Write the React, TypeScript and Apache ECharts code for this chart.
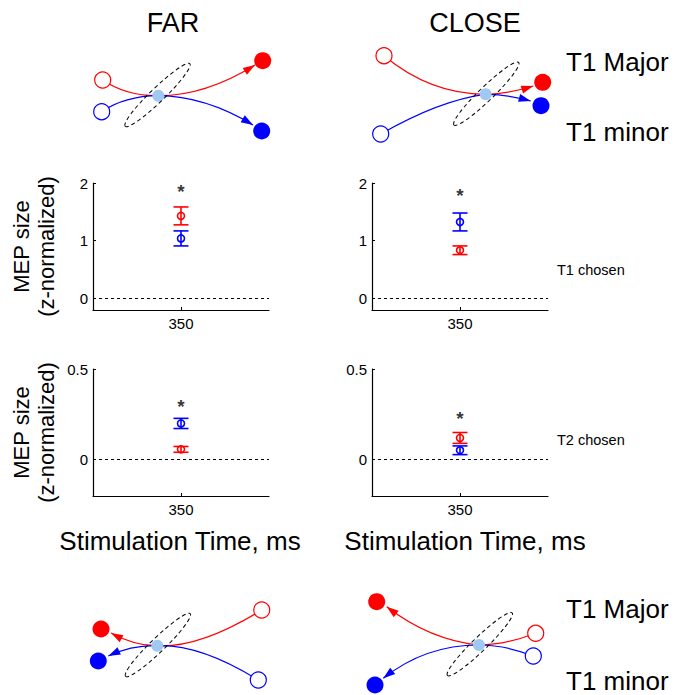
import React, { useEffect, useRef } from "react";
import * as echarts from "echarts";

// ---------- data ----------
const conditions = ["FAR", "CLOSE"];
const stimTimes = [350];
const xTickLabels = ["350"];
const t1YTicks = [0, 1, 2];
const t2YTicks = [0, 0.5];
// T1 chosen (row 1): [FAR, CLOSE]
const t1MajorMean = [1.43, 0.835];
const t1MajorSem = [0.155, 0.075];
const t1MinorMean = [1.04, 1.325];
const t1MinorSem = [0.13, 0.155];
const t1StarY = [1.94, 1.87];
// T2 chosen (row 2): [FAR, CLOSE]
const t2MajorMean = [0.057, 0.12];
const t2MajorSem = [0.016, 0.03];
const t2MinorMean = [0.2, 0.052];
const t2MinorSem = [0.028, 0.024];
const t2StarY = [0.32, 0.255];

const RED = "#ff0000";
const BLUE = "#0000ff";
const LIGHT = "#9fc8f2";
const FONT = "Liberation Sans, Arial, sans-serif";

// ---------- layout ----------
const gridRects = [
  { left: 93, top: 183, width: 176, height: 127 },
  { left: 372, top: 183, width: 176, height: 127 },
  { left: 93, top: 369, width: 176, height: 127 },
  { left: 372, top: 369, width: 176, height: 127 },
];

type P = [number, number];
interface Diagram {
  redOpen: P; blueOpen: P; center: P;
  redFilled: P; redTip: P; blueFilled: P; blueTip: P;
  redCp1: P; redCp2: P; blueCp1: P; blueCp2: P;
  ell: P;
}
const diagrams: Diagram[] = [
  { redOpen: [102.7, 80], blueOpen: [101.7, 111.7], center: [158.3, 95.7],
    redFilled: [262.7, 60.7], redTip: [255, 65], blueFilled: [261.7, 131], blueTip: [253, 125],
    redCp1: [126, 96], redCp2: [205, 96], blueCp1: [125, 96], blueCp2: [205, 96], ell: [157.5, 95] },
  { redOpen: [384, 55.7], blueOpen: [380.7, 134], center: [485.7, 94.3],
    redFilled: [542.7, 82.3], redTip: [533.3, 86], blueFilled: [541, 105.7], blueTip: [530.7, 101],
    redCp1: [430, 94], redCp2: [508, 94], blueCp1: [440, 100], blueCp2: [505, 94], ell: [486.3, 93.7] },
  { redOpen: [261.7, 610], blueOpen: [258.3, 680], center: [157.3, 645.7],
    redFilled: [101, 629], redTip: [111, 633], blueFilled: [98.3, 661], blueTip: [108.3, 656],
    redCp1: [200, 648], redCp2: [135, 646], blueCp1: [200, 644], blueCp2: [132, 645], ell: [157.9, 645] },
  { redOpen: [535.7, 633.3], blueOpen: [533.3, 656], center: [479, 645],
    redFilled: [376.7, 601.7], redTip: [386.7, 606.7], blueFilled: [375, 685], blueTip: [383.3, 678.3],
    redCp1: [505, 645], redCp2: [430, 640], blueCp1: [505, 645], blueCp2: [425, 645], ell: [479.8, 644.2] },
];

function curve(a: P, cp: P, b: P, color: string) {
  return {
    type: "bezierCurve",
    shape: { x1: a[0], y1: a[1], x2: b[0], y2: b[1], cpx1: cp[0], cpy1: cp[1] },
    style: { stroke: color, lineWidth: 1.2, fill: "none" },
    z: 1,
  };
}
function arrow(cp: P, tip: P, color: string) {
  const dx = tip[0] - cp[0], dy = tip[1] - cp[1];
  const len = Math.hypot(dx, dy);
  const ux = dx / len, uy = dy / len;
  const L = 12, W = 4;
  const bx = tip[0] - ux * L, by = tip[1] - uy * L;
  return {
    type: "polygon",
    shape: { points: [tip, [bx - uy * W, by + ux * W], [bx + uy * W, by - ux * W]] },
    style: { fill: color },
    z: 2,
  };
}
function diagramElements(d: Diagram) {
  const els: any[] = [];
  els.push(curve(d.redOpen, d.redCp1, d.center, RED));
  els.push(curve(d.center, d.redCp2, d.redTip, RED));
  els.push(curve(d.blueOpen, d.blueCp1, d.center, BLUE));
  els.push(curve(d.center, d.blueCp2, d.blueTip, BLUE));
  els.push(arrow(d.redCp2, d.redTip, RED));
  els.push(arrow(d.blueCp2, d.blueTip, BLUE));
  els.push({ type: "circle", shape: { cx: d.redOpen[0], cy: d.redOpen[1], r: 8 }, style: { fill: "#fff", stroke: RED, lineWidth: 1.2 }, z: 3 });
  els.push({ type: "circle", shape: { cx: d.blueOpen[0], cy: d.blueOpen[1], r: 8 }, style: { fill: "#fff", stroke: BLUE, lineWidth: 1.2 }, z: 3 });
  els.push({ type: "circle", shape: { cx: d.redFilled[0], cy: d.redFilled[1], r: 8.5 }, style: { fill: RED }, z: 3 });
  els.push({ type: "circle", shape: { cx: d.blueFilled[0], cy: d.blueFilled[1], r: 8.5 }, style: { fill: BLUE }, z: 3 });
  els.push({ type: "circle", shape: { cx: d.center[0], cy: d.center[1], r: 6 }, style: { fill: LIGHT }, z: 3 });
  els.push({
    type: "ellipse", x: d.ell[0], y: d.ell[1], rotation: (44 * Math.PI) / 180,
    shape: { cx: 0, cy: 0, rx: 45, ry: 7 },
    style: { fill: "none", stroke: "#000", lineWidth: 1, lineDash: [4, 3] }, z: 4,
  });
  return els;
}

function text(t: string, x: number, y: number, size: number, extra: any = {}) {
  return {
    type: "text", x, y, z: 5, ...extra,
    style: { text: t, fontSize: size, fontFamily: FONT, fill: "#000", align: "center", verticalAlign: "middle", ...(extra.style || {}) },
  };
}

function buildOption() {
  const rows = [
    { major: t1MajorMean, majorSem: t1MajorSem, minor: t1MinorMean, minorSem: t1MinorSem, star: t1StarY, ticks: t1YTicks, min: -0.2, max: 2 },
    { major: t2MajorMean, majorSem: t2MajorSem, minor: t2MinorMean, minorSem: t2MinorSem, star: t2StarY, ticks: t2YTicks, min: -0.2, max: 0.5 },
  ];
  const grid: any[] = [], xAxis: any[] = [], yAxis: any[] = [], series: any[] = [];
  rows.forEach((row, r) => {
    conditions.forEach((_, c) => {
      const g = r * 2 + c;
      grid.push({ ...gridRects[g] });
      xAxis.push({
        type: "value", gridIndex: g, min: 300, max: 400,
        axisLine: { show: true, onZero: false, lineStyle: { color: "#000", width: 1.2 } },
        splitLine: { show: false },
        axisTick: { show: true, inside: true, length: 3, customValues: stimTimes, lineStyle: { color: "#000" } },
        axisLabel: { show: true, customValues: stimTimes, formatter: (v: number) => xTickLabels[stimTimes.indexOf(v)] ?? "", fontSize: 15, color: "#000", fontFamily: FONT, margin: 6 },
      });
      yAxis.push({
        type: "value", gridIndex: g, min: row.min, max: row.max,
        axisLine: { show: true, onZero: false, lineStyle: { color: "#000", width: 1.2 } },
        splitLine: { show: false },
        axisTick: { show: true, inside: true, length: 3, customValues: row.ticks, lineStyle: { color: "#000" } },
        axisLabel: { show: true, customValues: row.ticks, fontSize: 15, color: "#000", fontFamily: FONT, margin: 5 },
      });
      const ebData = [
        [stimTimes[0], row.major[c], row.major[c] - row.majorSem[c], row.major[c] + row.majorSem[c], 0],
        [stimTimes[0], row.minor[c], row.minor[c] - row.minorSem[c], row.minor[c] + row.minorSem[c], 1],
      ];
      series.push({
        type: "custom", xAxisIndex: g, yAxisIndex: g, data: ebData, z: 5,
        renderItem: (params: any, api: any) => {
          const x = api.value(0);
          const m = api.coord([x, api.value(1)]);
          const lo = api.coord([x, api.value(2)]);
          const hi = api.coord([x, api.value(3)]);
          const col = api.value(4) === 0 ? RED : BLUE;
          const st = { stroke: col, lineWidth: 1.6, fill: "none" };
          const hw = 7.5;
          return {
            type: "group",
            children: [
              { type: "line", shape: { x1: m[0], y1: lo[1], x2: m[0], y2: hi[1] }, style: st },
              { type: "line", shape: { x1: m[0] - hw, y1: lo[1], x2: m[0] + hw, y2: lo[1] }, style: st },
              { type: "line", shape: { x1: m[0] - hw, y1: hi[1], x2: m[0] + hw, y2: hi[1] }, style: st },
              { type: "circle", shape: { cx: m[0], cy: m[1], r: 3.5 }, style: st },
            ],
          };
        },
      });
      series.push({
        type: "scatter", xAxisIndex: g, yAxisIndex: g, data: [[stimTimes[0], row.star[c]]],
        symbolSize: 1, itemStyle: { color: "rgba(0,0,0,0)" }, silent: true,
        label: { show: true, position: "inside", formatter: "*", fontSize: 19, fontWeight: "bold", color: "#000", fontFamily: FONT, offset: [0, 5] },
        markLine: {
          silent: true, symbol: ["none", "none"], label: { show: false },
          lineStyle: { type: [3, 3], color: "#000", width: 1 },
          data: [{ yAxis: 0 }],
        },
      });
    });
  });

  const graphic: any[] = [];
  diagrams.forEach((d) => graphic.push(...diagramElements(d)));
  graphic.push(text(conditions[0], 173, 23, 27));
  graphic.push(text(conditions[1], 475, 23, 27));
  graphic.push(text("T1 Major", 566, 62, 26, { style: { align: "left" } }));
  graphic.push(text("T1 minor", 566, 132, 26, { style: { align: "left" } }));
  graphic.push(text("T1 Major", 566, 609, 26, { style: { align: "left" } }));
  graphic.push(text("T1 minor", 566, 681, 26, { style: { align: "left" } }));
  graphic.push(text("T1 chosen", 557, 270, 14.5, { style: { align: "left" } }));
  graphic.push(text("T2 chosen", 557, 440, 14.5, { style: { align: "left" } }));
  graphic.push(text("Stimulation Time, ms", 180, 541, 26));
  graphic.push(text("Stimulation Time, ms", 465, 541, 26));
  [246.5, 432.5].forEach((cy) => {
    graphic.push(text("MEP size", 21, cy, 22, { rotation: Math.PI / 2 }));
    graphic.push(text("(z-normalized)", 46, cy, 22, { rotation: Math.PI / 2 }));
  });

  return { animation: false, backgroundColor: "#fff", grid, xAxis, yAxis, series, graphic };
}

export default function App() {
  const ref = useRef<HTMLDivElement>(null);
  useEffect(() => {
    if (!ref.current) return;
    const chart = echarts.init(ref.current, null, { renderer: "svg" });
    chart.setOption(buildOption() as any);
    return () => chart.dispose();
  }, []);
  return <div ref={ref} style={{ position: "fixed", left: 0, top: 0, width: 678, height: 695 }} />;
}
